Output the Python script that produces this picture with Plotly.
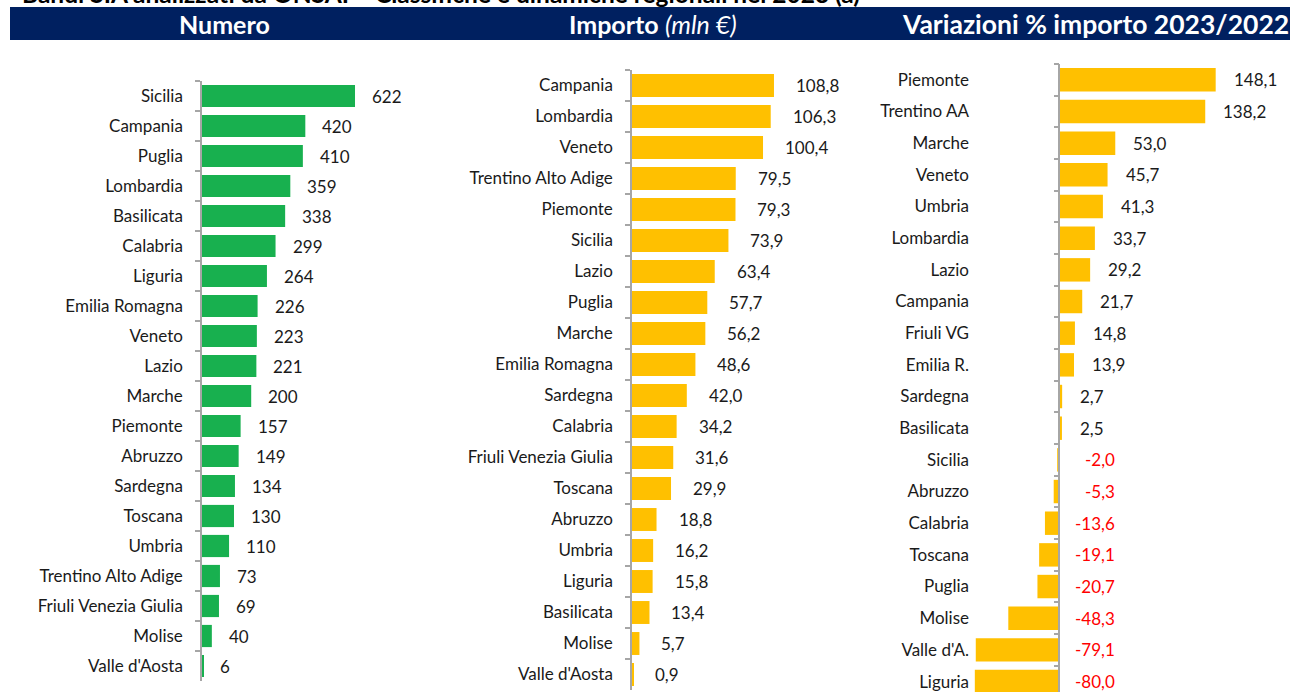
import plotly.graph_objects as go

# ---------------- data ----------------
regioni_numero = ["Sicilia", "Campania", "Puglia", "Lombardia", "Basilicata", "Calabria",
                  "Liguria", "Emilia Romagna", "Veneto", "Lazio", "Marche", "Piemonte",
                  "Abruzzo", "Sardegna", "Toscana", "Umbria", "Trentino Alto Adige",
                  "Friuli Venezia Giulia", "Molise", "Valle d'Aosta"]
numero = [622, 420, 410, 359, 338, 299, 264, 226, 223, 221, 200, 157, 149, 134, 130, 110,
          73, 69, 40, 6]

regioni_importo = ["Campania", "Lombardia", "Veneto", "Trentino Alto Adige", "Piemonte",
                   "Sicilia", "Lazio", "Puglia", "Marche", "Emilia Romagna", "Sardegna",
                   "Calabria", "Friuli Venezia Giulia", "Toscana", "Abruzzo", "Umbria",
                   "Liguria", "Basilicata", "Molise", "Valle d'Aosta"]
importo = [108.8, 106.3, 100.4, 79.5, 79.3, 73.9, 63.4, 57.7, 56.2, 48.6, 42.0, 34.2, 31.6,
           29.9, 18.8, 16.2, 15.8, 13.4, 5.7, 0.9]

regioni_var = ["Piemonte", "Trentino AA", "Marche", "Veneto", "Umbria", "Lombardia", "Lazio",
               "Campania", "Friuli VG", "Emilia R.", "Sardegna", "Basilicata", "Sicilia",
               "Abruzzo", "Calabria", "Toscana", "Puglia", "Molise", "Valle d'A.", "Liguria"]
variazione = [148.1, 138.2, 53.0, 45.7, 41.3, 33.7, 29.2, 21.7, 14.8, 13.9, 2.7, 2.5, -2.0,
              -5.3, -13.6, -19.1, -20.7, -48.3, -79.1, -80.0]

titolo = "Bandi SIA analizzati da ONSAI \u2013 Classifiche e dinamiche regionali nel 2023 (a)"
intestazioni = ["<b>Numero</b>", "<b>Importo</b> <i>(mln \u20ac)</i>",
                "<b>Variazioni % importo 2023/2022</b>"]

# ---------------- style ----------------
W, H = 1290, 692
FONT = "Lato"
LBL = 17
GREEN = "#18B04F"
YELLOW = "#FFC000"
NAVY = "#002060"
AXIS_GREY = "#A6A6A6"
TXT = "#1A1A1A"


def fmt(v, dec):
    return f"{v:.{dec}f}".replace(".", ",")


def px_x(p):
    return p / W


def px_y(p):
    return 1 - p / H


fig = go.Figure()

# Panel 1 - Numero
fig.add_trace(go.Bar(x=numero, y=regioni_numero, orientation="h", xaxis="x", yaxis="y",
                     marker=dict(color=GREEN, line=dict(width=0)), width=0.74,
                     hoverinfo="x+y", showlegend=False))
# Panel 2 - Importo
fig.add_trace(go.Bar(x=importo, y=regioni_importo, orientation="h", xaxis="x2", yaxis="y2",
                     marker=dict(color=YELLOW, line=dict(width=0)), width=0.74,
                     hoverinfo="x+y", showlegend=False))
# Panel 3 - Variazioni (labels axis, invisible)
fig.add_trace(go.Bar(x=variazione, y=regioni_var, orientation="h", xaxis="x3", yaxis="y3",
                     marker=dict(color="rgba(0,0,0,0)", line=dict(width=0)), width=0.74,
                     hoverinfo="skip", showlegend=False))
# Panel 3 - real bars, on axis positioned at zero
fig.add_trace(go.Bar(x=variazione, y=regioni_var, orientation="h", xaxis="x3", yaxis="y4",
                     marker=dict(color=YELLOW, line=dict(width=0)), width=0.74,
                     hoverinfo="x+y", showlegend=False))

# ----- axes geometry -----
scale1 = 0.246          # px per unit
x1_left, x1_right = 202, 430
scale2 = 1.305
x2_left, x2_right = 632, 855
scale3 = 1.056
zero3 = 1059.3
x3_left, x3_right = 972, 1290

r1 = [0, (x1_right - x1_left) / scale1]
r2 = [0, (x2_right - x2_left) / scale2]
r3 = [-(zero3 - x3_left) / scale3, (x3_right - zero3) / scale3]

common_y = dict(type="category", showgrid=False, zeroline=False,
                tickfont=dict(family=FONT, size=LBL, color=TXT), fixedrange=True)

fig.update_layout(
    xaxis=dict(domain=[px_x(x1_left), px_x(x1_right)], range=r1, visible=False,
               anchor="y", fixedrange=True),
    yaxis=dict(domain=[px_y(681), px_y(81)], anchor="x", autorange="reversed",
               showline=True, linecolor=AXIS_GREY, linewidth=1.5,
               ticks="outside", tickson="boundaries", ticklen=5, tickcolor=AXIS_GREY,
               tickwidth=1.5, ticklabelstandoff=14, **common_y),
    xaxis2=dict(domain=[px_x(x2_left), px_x(x2_right)], range=r2, visible=False,
                anchor="y2", fixedrange=True),
    yaxis2=dict(domain=[px_y(690), px_y(70)], anchor="x2", autorange="reversed",
                showline=True, linecolor=AXIS_GREY, linewidth=1.5,
                ticks="outside", tickson="boundaries", ticklen=5, tickcolor=AXIS_GREY,
                tickwidth=1.5, ticklabelstandoff=14, **common_y),
    xaxis3=dict(domain=[px_x(x3_left), px_x(x3_right)], range=r3, visible=False,
                anchor="y3", fixedrange=True),
    yaxis3=dict(domain=[0, px_y(64)], anchor="x3", range=[19.33, -0.5],
                showline=False, ticks="", ticklabelstandoff=2, **common_y),
    yaxis4=dict(domain=[0, px_y(64)], anchor="free", overlaying="y3",
                position=px_x(zero3), range=[19.33, -0.5], side="left",
                showline=True, linecolor=AXIS_GREY, linewidth=1.5,
                ticks="outside", tickson="boundaries", ticklen=5, tickcolor=AXIS_GREY,
                tickwidth=1.5, showticklabels=False, type="category", showgrid=False,
                zeroline=False, fixedrange=True),
)

annotations = []
# value labels
for reg, v in zip(regioni_numero, numero):
    annotations.append(dict(x=v, y=reg, xref="x", yref="y", text=str(v), showarrow=False,
                            xanchor="left", xshift=15,
                            font=dict(family=FONT, size=LBL, color=TXT)))
for reg, v in zip(regioni_importo, importo):
    annotations.append(dict(x=v, y=reg, xref="x2", yref="y2", text=fmt(v, 1), showarrow=False,
                            xanchor="left", xshift=20,
                            font=dict(family=FONT, size=LBL, color=TXT)))
for reg, v in zip(regioni_var, variazione):
    if v >= 0:
        annotations.append(dict(x=v, y=reg, xref="x3", yref="y3", text=fmt(v, 1),
                                showarrow=False, xanchor="left", xshift=16,
                                font=dict(family=FONT, size=LBL, color=TXT)))
    else:
        annotations.append(dict(x=0, y=reg, xref="x3", yref="y3", text=fmt(v, 1),
                                showarrow=False, xanchor="right", xshift=58,
                                font=dict(family=FONT, size=LBL, color="#FF0000")))

# header texts
for txt, cx, fs in zip(intestazioni, [224, 653, 1095], [25, 25, 26.5]):
    annotations.append(dict(x=px_x(cx), y=px_y(24), xref="paper", yref="paper", text=txt,
                            showarrow=False, xanchor="center", yanchor="middle",
                            font=dict(family=FONT, size=fs, color="white")))
# clipped title
annotations.append(dict(x=px_x(20), y=1, xref="paper", yref="paper", text="<b>" + titolo + "</b>",
                        showarrow=False, xanchor="left", yanchor="bottom", yshift=-10.5,
                        font=dict(family=FONT, size=24.5, color="black")))

fig.update_layout(
    annotations=annotations,
    shapes=[dict(type="rect", xref="paper", yref="paper", x0=px_x(10), x1=1,
                 y0=px_y(40), y1=px_y(7), fillcolor=NAVY, line=dict(width=0), layer="below")],
    width=W, height=H, margin=dict(l=0, r=0, t=0, b=0),
    paper_bgcolor="white", plot_bgcolor="rgba(0,0,0,0)",
    bargap=0.26, barmode="overlay",
    font=dict(family=FONT, size=LBL, color=TXT),
)

fig.write_html("out.html", config={"displayModeBar": False},
               post_script="document.body.style.margin='0';document.body.style.overflow='hidden';")
